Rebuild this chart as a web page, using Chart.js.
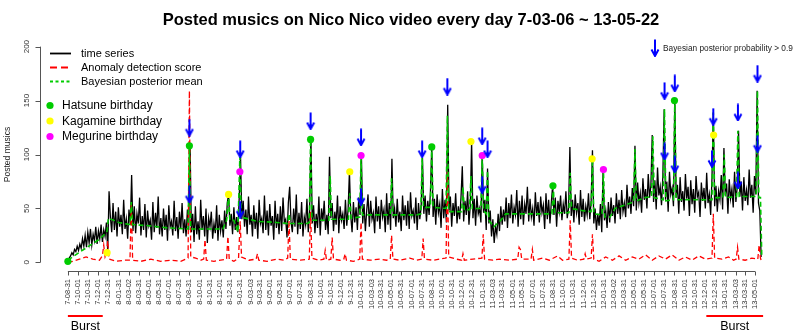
<!DOCTYPE html>
<html>
<head>
<meta charset="utf-8">
<script src="https://cdn.jsdelivr.net/npm/chart.js@4.4.0/dist/chart.umd.min.js"></script>
<style>
  html, body { margin: 0; padding: 0; background: #fff; }
  canvas { display: block; }
</style>
</head>
<body>
<canvas id="chart" width="800" height="335"></canvas>
<script>
// Nico Nico daily posted musics, anomaly score and posterior mean

const FONT = '"Liberation Sans", Arial, Helvetica, sans-serif';
const title = 'Posted musics on Nico Nico video every day 7-03-06 ~ 13-05-22';

const seriesStep = 4;

const tickLabels = [
  "7-08-31","7-10-01","7-10-31","7-12-01","7-12-31","8-01-31","8-03-02","8-03-31","8-05-01","8-05-31",
  "8-07-01","8-07-31","8-08-31","8-10-01","8-10-31","8-12-01","8-12-31","9-01-31","9-03-03","9-03-31",
  "9-05-01","9-05-31","9-07-01","9-07-31","9-08-31","9-10-01","9-10-31","9-12-01","9-12-31","10-01-31",
  "10-03-03","10-03-31","10-05-01","10-05-31","10-07-01","10-07-31","10-08-31","10-10-01","10-10-31","10-12-01",
  "10-12-31","11-01-31","11-03-03","11-03-31","11-05-01","11-05-31","11-07-01","11-07-31","11-08-31","11-10-01",
  "11-10-31","11-12-01","11-12-31","12-01-31","12-03-02","12-03-31","12-05-01","12-05-31","12-07-01","12-07-31",
  "12-08-31","12-10-01","12-10-31","12-12-01","12-12-31","13-01-31","13-03-03","13-03-31","13-05-01"
];
const yTicks = [0, 50, 100, 150, 200];

const postedMusics = [
  1, 4, 6, 9, 7, 12, 10, 15, 11, 17,
  13, 22, 15, 25, 14, 28, 18, 31, 16, 26,
  20, 33, 17, 29, 22, 35, 19, 30, 24, 37,
  10, 66, 42, 28, 55, 30, 47, 24, 51, 33,
  44, 26, 58, 31, 40, 22, 49, 35, 81, 29,
  52, 27, 45, 36, 60, 25, 43, 30, 54, 23,
  48, 34, 39, 21, 56, 28, 46, 32, 61, 26,
  41, 24, 50, 30, 44, 20, 53, 33, 38, 25,
  57, 29, 42, 22, 47, 31, 55, 27, 40, 24,
  49, 30, 110, 28, 45, 19, 52, 26, 38, 21,
  58, 30, 43, 24, 50, 18, 41, 33, 47, 22,
  36, 27, 53, 20, 44, 29, 39, 23, 48, 31,
  55, 63, 34, 45, 26, 51, 30, 42, 28, 60,
  98, 40, 57, 33, 49, 26, 61, 35, 44, 24,
  53, 31, 46, 22, 58, 36, 41, 27, 62, 30,
  48, 25, 54, 34, 43, 21, 57, 32, 45, 26,
  52, 29, 60, 37, 40, 23, 55, 70, 38, 28,
  50, 33, 63, 26, 46, 31, 56, 24, 42, 35,
  59, 28, 48, 117, 36, 53, 27, 45, 32, 61,
  25, 50, 38, 57, 30, 44, 26, 98, 41, 55,
  29, 47, 35, 62, 27, 52, 39, 45, 31, 58,
  34, 49, 84, 43, 28, 56, 37, 51, 30, 60,
  44, 101, 36, 54, 29, 48, 63, 33, 57, 40,
  46, 27, 61, 38, 52, 31, 58, 42, 49, 28,
  64, 35, 55, 30, 96, 41, 50, 33, 59, 37,
  47, 29, 62, 39, 53, 34, 57, 31, 65, 43,
  48, 36, 60, 30, 55, 40, 51, 97, 45, 62,
  38, 57, 44, 66, 107, 42, 59, 35, 63, 46,
  54, 32, 68, 41, 58, 37, 146, 48, 61, 33,
  55, 43, 64, 36, 52, 40, 60, 89, 38, 57,
  44, 66, 35, 53, 112, 41, 59, 34, 62, 45,
  50, 37, 101, 46, 58, 30, 87, 36, 48, 24,
  40, 18, 33, 26, 45, 29, 52, 35, 49, 38,
  60, 32, 55, 41, 63, 36, 51, 44, 67, 33,
  57, 40, 62, 35, 54, 45, 70, 38, 59, 42,
  50, 34, 65, 43, 56, 37, 61, 46, 53, 31,
  64, 40, 58, 36, 55, 71, 44, 60, 33, 57,
  47, 62, 39, 54, 45, 66, 41, 50, 107, 43,
  58, 37, 63, 46, 55, 35, 67, 42, 59, 38,
  52, 44, 64, 40, 57, 104, 36, 50, 30, 45,
  34, 54, 28, 86, 39, 48, 32, 56, 37, 60,
  43, 53, 36, 64, 45, 58, 40, 67, 47, 55,
  42, 72, 50, 61, 45, 69, 52, 108, 48, 74,
  55, 64, 46, 78, 58, 68, 50, 82, 60, 71,
  118, 56, 76, 49, 88, 62, 70, 53, 80, 142,
  58, 75, 47, 84, 63, 69, 52, 151, 60, 72,
  45, 79, 56, 66, 48, 82, 59, 70, 43, 76,
  54, 68, 46, 80, 61, 65, 42, 74, 57, 69,
  50, 83, 55, 63, 44, 78, 139, 52, 71, 47,
  66, 58, 81, 49, 106, 62, 73, 45, 77, 59,
  68, 51, 84, 56, 70, 122, 61, 75, 48, 79,
  57, 67, 53, 86, 60, 72, 46, 80, 63, 159,
  55, 48, 5
];

// anomaly detection score (day, value)
const scoreDays = [
  0, 15, 35, 55, 75, 95, 104, 108, 112, 116, 120, 124, 145, 170, 187, 191, 195, 220, 250, 280,
  310, 340, 362, 366, 370, 385, 400, 409, 413, 417, 440, 460, 478, 482, 486, 500, 514, 519, 523, 545,
  567, 571, 575, 600, 630, 650, 662, 666, 670, 700, 727, 731, 735, 755, 771, 775, 779, 792, 796, 800,
  820, 831, 835, 839, 860, 879, 883, 887, 910, 940, 960, 971, 975, 979, 1000, 1030, 1050, 1066, 1070, 1074,
  1100, 1120, 1139, 1143, 1147, 1170, 1186, 1190, 1194, 1220, 1247, 1251, 1255, 1280, 1300, 1330, 1355, 1359, 1363, 1367,
  1395, 1399, 1403, 1430, 1450, 1475, 1490, 1509, 1513, 1517, 1535, 1554, 1558, 1562, 1576, 1580, 1584, 1600, 1620, 1640,
  1660, 1680, 1700, 1720, 1740, 1760, 1780, 1800, 1820, 1840, 1860, 1880, 1900, 1920, 1940, 1944, 1948, 1970, 1990, 2005,
  2013, 2017, 2021, 2040, 2060, 2078, 2082, 2086, 2088
];
const scoreValues = [
  0, 1, 3, 5, 3, 2, 6, 16, 5, 8, 20, 3, 1, 2, 2, 55, 2, 1, 3, 1,
  2, 1, 4, 159, 5, 4, 2, 3, 21, 2, 1, 2, 3, 24, 3, 1, 4, 38, 5, 2,
  3, 8, 2, 1, 3, 2, 4, 39, 3, 2, 3, 47, 4, 2, 3, 11, 2, 3, 23, 3,
  2, 3, 8, 2, 1, 3, 37, 3, 2, 3, 2, 3, 25, 3, 2, 4, 2, 3, 22, 3,
  2, 3, 4, 84, 5, 3, 2, 8, 2, 3, 4, 26, 3, 2, 3, 2, 3, 14, 12, 3,
  3, 12, 2, 4, 2, 6, 2, 3, 39, 4, 2, 3, 8, 3, 4, 26, 3, 1, 5, 2,
  6, 2, 5, 3, 7, 2, 6, 3, 7, 2, 5, 2, 6, 3, 4, 45, 4, 3, 5, 2,
  3, 14, 3, 2, 4, 3, 16, 4, 2
];

// Bayesian posterior mean (day, value)
const meanDays = [
  0, 33, 63, 93, 114, 118, 122, 153, 187, 191, 195, 242, 300, 362, 366, 370, 420, 467, 478, 484,
  488, 500, 512, 518, 522, 571, 630, 662, 666, 670, 721, 727, 731, 735, 786, 790, 794, 845, 849, 853,
  879, 883, 887, 971, 975, 979, 1050, 1063, 1067, 1071, 1092, 1096, 1100, 1139, 1143, 1147, 1186, 1190, 1194, 1210,
  1214, 1218, 1244, 1248, 1252, 1260, 1264, 1268, 1283, 1304, 1319, 1458, 1462, 1466, 1509, 1513, 1517, 1550, 1576, 1580,
  1584, 1609, 1613, 1617, 1633, 1648, 1704, 1708, 1712, 1738, 1758, 1762, 1766, 1793, 1797, 1801, 1824, 1828, 1832, 1940,
  1944, 1948, 1973, 1977, 1981, 2014, 2018, 2022, 2073, 2077, 2081, 2086, 2090
];
const meanValues = [
  2, 9, 15, 21, 27, 29, 41, 37, 35, 56, 35, 34, 32, 31, 108, 31, 31, 31, 39, 63,
  39, 39, 28, 98, 42, 38, 37, 36, 45, 36, 36, 37, 114, 39, 39, 80, 40, 40, 64, 41,
  42, 98, 44, 44, 78, 44, 44, 45, 97, 51, 51, 107, 51, 50, 136, 47, 47, 70, 48, 49,
  80, 50, 50, 98, 48, 45, 85, 39, 33, 39, 45, 45, 70, 46, 46, 83, 50, 48, 47, 96,
  45, 44, 86, 42, 42, 50, 56, 105, 57, 60, 61, 117, 60, 58, 142, 57, 58, 150, 58, 58,
  139, 60, 60, 100, 60, 61, 122, 61, 61, 159, 60, 60, 5
];

const hatsuneDates = ['2007-08-31', '2008-08-31', '2009-08-31', '2010-08-31', '2011-08-31', '2012-08-31'];
const hatsuneValues = [1, 108, 114, 107, 71, 150];
const kagamineDates = ['2007-12-27', '2008-12-27', '2009-12-27', '2010-12-27', '2011-12-27', '2012-12-27'];
const kagamineValues = [9, 63, 84, 112, 96, 118];
const megurineDates = ['2009-01-30', '2010-01-30', '2011-01-30', '2012-01-30'];
const megurineValues = [84, 99, 99, 86];

// arrows: posterior probability > 0.9 (day, arrow centre value)
const alertDays = [366, 366, 519, 519, 731, 883, 883, 1067, 1143, 1248, 1248, 1264, 1797, 1797, 1828, 1828, 1944, 1940, 2018, 2018, 2077, 2077];
const alertValues = [125, 63, 105, 49, 131, 116, 61, 105, 163, 117, 72, 105, 159, 103, 166, 91, 135, 96, 139, 76, 175, 110];

const burstRanges = [[0, 105], [1923, 2094]];

const t0 = Date.UTC(2007, 7, 31);
function dayOf(s) {
  const p = s.split('-').map(Number);
  const yr = p[0] < 100 ? 2000 + p[0] : p[0];
  return Math.round((Date.UTC(yr, p[1] - 1, p[2]) - t0) / 86400000);
}
const tickDays = tickLabels.map(dayOf);
const pts = (xs, ys) => xs.map((x, i) => ({ x: x, y: ys[i] }));

function makeArrow(h) {
  const c = document.createElement('canvas');
  c.width = 10; c.height = h;
  const g = c.getContext('2d');
  g.strokeStyle = '#0000ff';
  g.lineWidth = 2;
  g.beginPath();
  g.moveTo(5, 0.5); g.lineTo(5, h - 1.5);
  g.moveTo(1.5, h - 7.5); g.lineTo(5, h - 1); g.lineTo(8.5, h - 7.5);
  g.stroke();
  return c;
}
const arrowImg = makeArrow(18);

function dotSet(label, dates, values, color) {
  return {
    label: label, data: pts(dates.map(dayOf), values),
    backgroundColor: color, borderWidth: 0, pointRadius: 3.6, showLine: false
  };
}

const decorations = {
  id: 'decorations',
  afterDraw(chart) {
    const { ctx, chartArea } = chart;
    const x = chart.scales.x, y = chart.scales.y;
    ctx.save();
    ctx.fillStyle = '#000';
    ctx.font = 'bold 16.5px ' + FONT;
    ctx.textAlign = 'center';
    ctx.textBaseline = 'middle';
    ctx.fillText(title, 411, 20);

    // axes, R style
    ctx.strokeStyle = '#555';
    ctx.lineWidth = 1;
    const ax = Math.round(chartArea.left) + 0.5;
    const ay = Math.round(chartArea.bottom) + 0.5;
    ctx.beginPath();
    ctx.moveTo(ax, y.getPixelForValue(0));
    ctx.lineTo(ax, y.getPixelForValue(200));
    yTicks.forEach(v => {
      const py = Math.round(y.getPixelForValue(v)) + 0.5;
      ctx.moveTo(ax - 5, py); ctx.lineTo(ax, py);
    });
    ctx.moveTo(x.getPixelForValue(tickDays[0]), ay);
    ctx.lineTo(x.getPixelForValue(tickDays[tickDays.length - 1]), ay);
    tickDays.forEach(d => {
      const px = Math.round(x.getPixelForValue(d)) + 0.5;
      ctx.moveTo(px, ay); ctx.lineTo(px, ay + 4);
    });
    ctx.stroke();

    ctx.fillStyle = '#333';
    ctx.font = '8px ' + FONT;
    yTicks.forEach(v => {
      ctx.save();
      ctx.translate(27, y.getPixelForValue(v));
      ctx.rotate(-Math.PI / 2);
      ctx.fillText(String(v), 0, 0);
      ctx.restore();
    });
    ctx.save();
    ctx.translate(8, (chartArea.top + chartArea.bottom) / 2);
    ctx.rotate(-Math.PI / 2);
    ctx.font = '8.5px ' + FONT;
    ctx.fillStyle = '#222';
    ctx.fillText('Posted musics', 0, 0);
    ctx.restore();

    // legend: lines
    ctx.textAlign = 'left';
    ctx.fillStyle = '#000';
    ctx.font = '11px ' + FONT;
    const lines = [
      ['time series', '#000', 1.8, []],
      ['Anomaly detection score', '#ff0000', 1.8, [7, 4]],
      ['Bayesian posterior mean', '#00cc00', 1.8, [3, 2.5]]
    ];
    lines.forEach((l, i) => {
      const ly = 53.5 + i * 14;
      ctx.strokeStyle = l[1]; ctx.lineWidth = l[2]; ctx.setLineDash(l[3]);
      ctx.beginPath(); ctx.moveTo(50, ly); ctx.lineTo(71, ly); ctx.stroke();
      ctx.fillText(l[0], 81, ly + 0.5);
    });
    ctx.setLineDash([]);
    // legend: birthdays
    ctx.font = '12px ' + FONT;
    const dots = [['Hatsune birthday', '#00cc00'], ['Kagamine birthday', '#ffff00'], ['Megurine birthday', '#ff00ff']];
    dots.forEach((d, i) => {
      const ly = 105.5 + i * 15.5;
      ctx.fillStyle = d[1];
      ctx.beginPath(); ctx.arc(50, ly, 3.6, 0, Math.PI * 2); ctx.fill();
      ctx.fillStyle = '#000';
      ctx.fillText(d[0], 62, ly + 0.5);
    });
    // legend: arrow
    ctx.drawImage(arrowImg, 650, 39);
    ctx.font = '8.3px ' + FONT;
    ctx.fillStyle = '#222';
    ctx.fillText('Bayesian posterior probability > 0.9', 663, 49);

    // burst periods
    ctx.strokeStyle = '#ff0000';
    ctx.lineWidth = 2;
    ctx.fillStyle = '#000';
    ctx.font = '12.5px ' + FONT;
    ctx.textAlign = 'center';
    burstRanges.forEach(r => {
      const x1 = x.getPixelForValue(r[0]), x2 = x.getPixelForValue(r[1]);
      ctx.beginPath(); ctx.moveTo(x1, 316); ctx.lineTo(x2, 316); ctx.stroke();
      ctx.fillText('Burst', (x1 + x2) / 2, 327);
    });
    ctx.restore();
  }
};

new Chart(document.getElementById('chart'), {
  type: 'scatter',
  data: {
    datasets: [
      { label: 'alert', data: pts(alertDays, alertValues), pointStyle: arrowImg, pointRadius: 9, showLine: false },
      dotSet('Hatsune birthday', hatsuneDates, hatsuneValues, '#00cc00'),
      dotSet('Kagamine birthday', kagamineDates, kagamineValues, '#ffff00'),
      dotSet('Megurine birthday', megurineDates, megurineValues, '#ff00ff'),
      {
        label: 'Bayesian posterior mean', data: pts(meanDays, meanValues),
        borderColor: '#00c400', borderWidth: 1.6, borderDash: [5, 3], pointRadius: 0, showLine: true
      },
      {
        label: 'Anomaly detection score', data: pts(scoreDays, scoreValues),
        borderColor: '#ff0000', borderWidth: 1.3, borderDash: [5, 3], pointRadius: 0, showLine: true
      },
      {
        label: 'time series', data: postedMusics.map((v, i) => ({ x: i * seriesStep, y: v })),
        borderColor: '#000', borderWidth: 1.3, pointRadius: 0, showLine: true
      }
    ]
  },
  options: {
    responsive: false,
    animation: false,
    devicePixelRatio: 1,
    layout: { padding: { top: 38, right: 4, left: 0, bottom: 0 } },
    plugins: { legend: { display: false }, tooltip: { enabled: false }, title: { display: false } },
    scales: {
      x: {
        type: 'linear', min: -84, max: 2175,
        grid: { display: false }, border: { display: false },
        afterBuildTicks: s => { s.ticks = tickDays.map(v => ({ value: v })); },
        afterFit: s => { s.height = 64; },
        ticks: {
          autoSkip: false, minRotation: 90, maxRotation: 90, padding: 0,
          color: '#333', font: { family: FONT, size: 7.5 },
          callback: (v, i) => tickLabels[i]
        }
      },
      y: {
        min: -8, max: 208,
        grid: { display: false }, border: { display: false },
        afterBuildTicks: s => { s.ticks = yTicks.map(v => ({ value: v })); },
        afterFit: s => { s.width = 40; },
        ticks: { display: false }
      }
    }
  },
  plugins: [decorations]
});
</script>
</body>
</html>
